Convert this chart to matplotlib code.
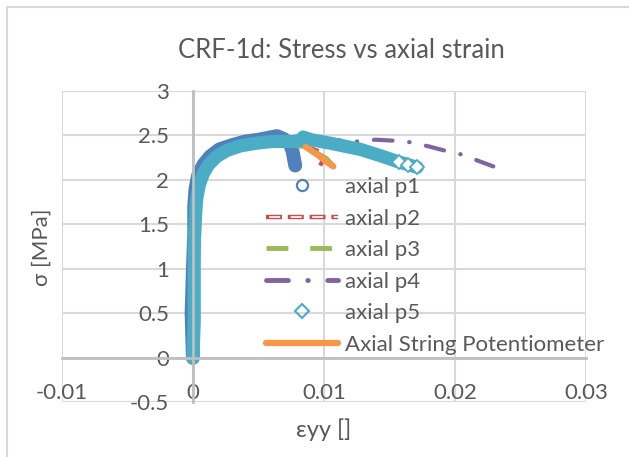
import matplotlib
matplotlib.use("Agg")
import matplotlib.pyplot as plt
from matplotlib.lines import Line2D
from matplotlib.ticker import FormatStrFormatter

plt.rcParams['font.family'] = ['Lato', 'DejaVu Sans']
plt.rcParams['axes.unicode_minus'] = False

# data (strain [-], stress [MPa])
eps_p1 = [0.0, -0.0001, 0.0, 0.0001, 0.0001, 0.0002, 0.0004, 0.0008, 0.0013, 0.002,
          0.003, 0.004, 0.005, 0.0064, 0.0069, 0.0074, 0.0076, 0.0077, 0.0078]
sig_p1 = [0.0, 0.5, 1.0, 1.4, 1.7, 1.9, 2.05, 2.17, 2.26, 2.34,
          2.39, 2.43, 2.45, 2.49, 2.46, 2.40, 2.32, 2.24, 2.16]

eps_p2 = [0.0, 0.0003, 0.001, 0.003, 0.006, 0.0085, 0.0096, 0.0099, 0.0097]
sig_p2 = [0.0, 1.8, 2.15, 2.35, 2.42, 2.38, 2.32, 2.22, 2.16]

eps_p3 = [0.0, 0.0003, 0.001, 0.003, 0.006, 0.0085, 0.0095, 0.0102, 0.0107]
sig_p3 = [0.0, 1.8, 2.15, 2.35, 2.42, 2.37, 2.30, 2.24, 2.16]

eps_p4 = [0.0, 0.0002, 0.0006, 0.002, 0.004, 0.006, 0.0084, 0.0105, 0.0125, 0.0139,
          0.0152, 0.0167, 0.0181, 0.0194, 0.0206, 0.0218, 0.0229]
sig_p4 = [0.0, 1.5, 2.0, 2.3, 2.4, 2.43, 2.46, 2.45, 2.43, 2.45,
          2.44, 2.42, 2.37, 2.32, 2.28, 2.21, 2.15]

eps_p5 = [0.0, 0.0001, 0.0001, 0.0001, 0.0002, 0.0003, 0.0005, 0.0008, 0.0012, 0.0018,
          0.0026, 0.0036, 0.0048, 0.006, 0.0075, 0.0082, 0.0084, 0.009, 0.0105, 0.0128,
          0.0143, 0.0157, 0.0164, 0.0171]
sig_p5 = [0.0, 0.4, 0.9, 1.3, 1.6, 1.8, 1.95, 2.07, 2.17, 2.26,
          2.33, 2.38, 2.41, 2.43, 2.43, 2.44, 2.48, 2.45, 2.41, 2.34,
          2.27, 2.20, 2.17, 2.14]

eps_sp = [0.0086, 0.0091, 0.0096, 0.0101, 0.0107]
sig_sp = [2.37, 2.32, 2.27, 2.21, 2.15]

labels = ["axial p1", "axial p2", "axial p3", "axial p4", "axial p5",
          "Axial String Potentiometer"]
xticks = [-0.01, 0, 0.01, 0.02, 0.03]
yticks = [-0.5, 0, 0.5, 1, 1.5, 2, 2.5, 3]

blue = "#4F81BD"
red = "#C0504D"
green = "#9BBB59"
purple = "#8064A2"
teal = "#4BACC6"
orange = "#F79646"
txt = "#595959"

fig = plt.figure(figsize=(6.29, 4.57), dpi=100)
ax = fig.add_axes([0.0981, 0.1193, 0.8343, 0.6822])

# dense marker clouds drawn as thick bands
ax.plot(eps_p1, sig_p1, color=blue, lw=10, solid_capstyle="round",
        solid_joinstyle="round")
ax.plot(eps_p2, sig_p2, color=red, lw=3, dashes=(3, 1.5))
ax.plot(eps_p3, sig_p3, color=green, lw=3.2)
ax.plot(eps_p4, sig_p4, color=purple, lw=3, dashes=(4.5, 4, 0.1, 4),
        dash_capstyle="round")
ax.plot(eps_p5, sig_p5, color=teal, lw=9.5, solid_capstyle="round",
        solid_joinstyle="round")
ax.plot(eps_p5[-3:], sig_p5[-3:], ls="none", marker="D", ms=7, mfc="white",
        mec=teal, mew=1.3)
ax.plot(eps_sp, sig_sp, color=orange, lw=4.5, solid_capstyle="round")

ax.set_xlim(-0.01, 0.03)
ax.set_ylim(-0.5, 3)
ax.set_xticks(xticks)
ax.set_yticks(yticks)
ax.xaxis.set_major_formatter(FormatStrFormatter("%g"))
ax.yaxis.set_major_formatter(FormatStrFormatter("%g"))
ax.grid(True, color="#d9d9d9", lw=1.5)
ax.set_axisbelow(True)
for s in ["top", "right"]:
    ax.spines[s].set_visible(False)
ax.spines["left"].set_position(("data", 0))
ax.spines["bottom"].set_position(("data", 0))
for s in ["left", "bottom"]:
    ax.spines[s].set_color("#bfbfbf")
    ax.spines[s].set_linewidth(2)
ax.tick_params(axis="x", length=0, pad=18, labelsize=16, labelcolor=txt)
ax.tick_params(axis="y", length=0, pad=17, labelsize=16, labelcolor=txt)

# legend
h1 = Line2D([], [], ls="none", marker="o", ms=8, mfc="none", mec=blue, mew=1.6)
h2a = Line2D([], [], color=red, lw=3.2, ls=(0, (3.6, 1.3)))
h2b = Line2D([], [], color="white", lw=1.2, ls=(11.0, (6.6, 6.3)))
h3 = Line2D([], [], color=green, lw=3.5, dashes=(4.5, 4.5))
h4 = Line2D([], [], color=purple, lw=3.5, dashes=(4.5, 4, 0.1, 4),
            dash_capstyle="round")
h5 = Line2D([], [], ls="none", marker="D", ms=7, mfc="none", mec=teal, mew=1.5)
h6 = Line2D([], [], color=orange, lw=4.5, solid_capstyle="round")
fig.legend([h1, (h2a, h2b), h3, h4, h5, h6], labels, loc="upper left",
           bbox_to_anchor=(266 / 629, 1 - 177 / 457), frameon=False,
           fontsize=16, labelcolor=txt, handlelength=3.25, handletextpad=0.3,
           labelspacing=0.52, borderpad=0, borderaxespad=0)

fig.text(341 / 629, 1 - 50 / 457, "CRF-1d: Stress vs axial strain",
         ha="center", va="center", fontsize=18.5, color=txt)
fig.text(42 / 629, 1 - 247 / 457, "σ [MPa]", ha="center", va="center",
         rotation=90, fontsize=16, color=txt)
fig.text(324 / 629, 1 - 430 / 457, "εyy []", ha="center", va="center",
         fontsize=17, color=txt)

# chart border
fig.add_artist(Line2D([7 / 629, 7 / 629], [0, 1 - 7 / 457], color="#d9d9d9",
                      lw=1.5, transform=fig.transFigure))
fig.add_artist(Line2D([7 / 629, 1], [1 - 7 / 457, 1 - 7 / 457], color="#d9d9d9",
                      lw=1.5, transform=fig.transFigure))

fig.savefig("out.png", dpi=100)
